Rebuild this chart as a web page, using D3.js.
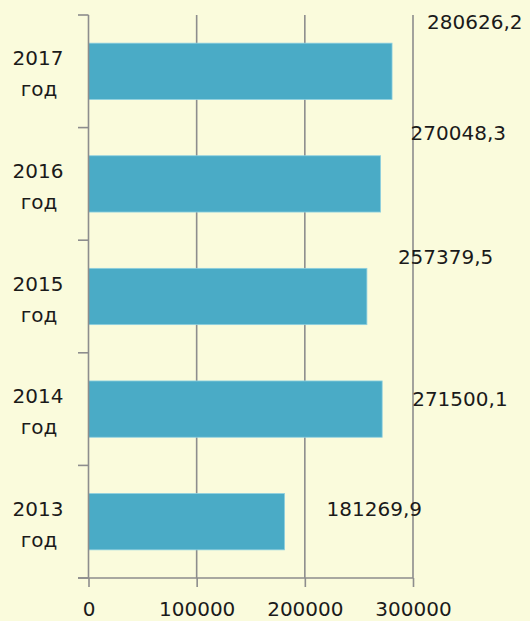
<!DOCTYPE html>
<html>
<head>
<meta charset="utf-8">
<script src="https://cdn.jsdelivr.net/npm/d3@7"></script>
<style>
  html, body { margin: 0; padding: 0; background: #fafbdc; }
  text { font-family: "DejaVu Sans", Verdana, sans-serif; fill: #1a1a1a; }
</style>
</head>
<body>
<div id="chart"></div>
<script>
// data
let years = ["2017", "2016", "2015", "2014", "2013"];
let values = [280626.2, 270048.3, 257379.5, 271500.1, 181269.9];
let valueLabels = ["280626,2", "270048,3", "257379,5", "271500,1", "181269,9"];
let xTicks = [0, 100000, 200000, 300000];

// label nudges from bar end / bar top (labels were dragged by hand in the original)
let labelShift = [[35, -14], [30, -16], [31, -4], [30, 25], [42, 22]];

var width = 530,
    height = 621;

var svg = d3.select('#chart').append('svg')
    .attr('width', width)
    .attr('height', height);

var g = svg.append('g');

let x = d3.scaleLinear().domain([0, 300000]).range([88.5, 413]);
let y = d3.scaleBand().domain(years).range([15, 578])
    .paddingInner(0.5).paddingOuter(0.25);

let axisColor = "#8d8d8d";

// vertical grid lines
g.selectAll(".grid").data(xTicks.slice(1)).enter()
    .append("line")
    .attr("class", "grid")
    .attr("x1", d => x(d)).attr("x2", d => x(d))
    .attr("y1", 15).attr("y2", 578)
    .attr("stroke", axisColor).attr("stroke-width", 1.6);

// bars
g.selectAll(".bar").data(values).enter()
    .append("rect")
    .attr("class", "bar")
    .attr("x", x(0))
    .attr("y", (d, i) => y(years[i]))
    .attr("width", d => x(d) - x(0))
    .attr("height", y.bandwidth())
    .attr("fill", "#4aabc6")
    .attr("stroke", "#8fd0e0")
    .attr("stroke-width", 0.8);

// bottom axis
let xAxis = d3.axisBottom(x).tickValues(xTicks).tickSize(9).tickSizeOuter(0)
    .tickFormat(d3.format("d"));
let gx = g.append("g").attr("transform", "translate(0,578)").call(xAxis);
gx.select(".domain").remove();
gx.append("line").attr("x1", 78).attr("x2", x(300000)).attr("y1", 0).attr("y2", 0)
    .attr("stroke", axisColor).attr("stroke-width", 1.6);
gx.selectAll(".tick line").attr("stroke", axisColor).attr("stroke-width", 1.6);
gx.selectAll(".tick text")
    .attr("y", 38).attr("dy", 0)
    .style("font-size", "20px")
    .style("font-family", "DejaVu Sans, sans-serif")
    .attr("fill", "#1a1a1a");

// left axis line with tick marks between categories
g.append("line")
    .attr("x1", x(0)).attr("x2", x(0)).attr("y1", 15).attr("y2", 578)
    .attr("stroke", axisColor).attr("stroke-width", 1.6);
let bounds = years.map(d => y(d) - y.step() * 0.25).concat([578]);
g.selectAll(".ytick").data(bounds).enter()
    .append("line")
    .attr("class", "ytick")
    .attr("x1", 78).attr("x2", x(0))
    .attr("y1", d => d).attr("y2", d => d)
    .attr("stroke", axisColor).attr("stroke-width", 1.6);

// category labels
let cat = g.selectAll(".cat").data(years).enter()
    .append("text")
    .attr("class", "cat")
    .attr("text-anchor", "middle")
    .style("font-size", "20px");
cat.append("tspan")
    .attr("x", 38)
    .attr("y", d => y(d) + y.bandwidth() / 2 - 6)
    .text(d => d);
cat.append("tspan")
    .attr("x", 39)
    .attr("y", d => y(d) + y.bandwidth() / 2 + 25)
    .text("год");

// value labels
g.selectAll(".val").data(values).enter()
    .append("text")
    .attr("class", "val")
    .style("font-size", "20px")
    .attr("x", (d, i) => x(d) + labelShift[i][0])
    .attr("y", (d, i) => y(years[i]) + labelShift[i][1])
    .text((d, i) => valueLabels[i]);
</script>
</body>
</html>
